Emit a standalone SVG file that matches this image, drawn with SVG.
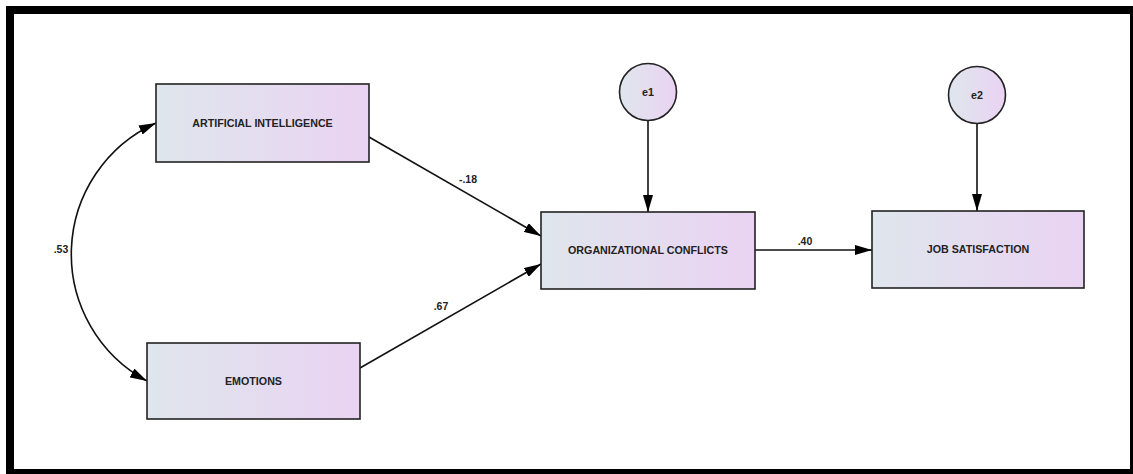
<svg xmlns="http://www.w3.org/2000/svg" width="1133" height="474" viewBox="0 0 1133 474">
<defs>
<linearGradient id="g" x1="0" y1="0" x2="1" y2="0">
<stop offset="0" stop-color="#dfe6ec"/>
<stop offset="1" stop-color="#ead3f3"/>
</linearGradient>
<marker id="ah" viewBox="0 0 17 10" refX="17" refY="5" markerWidth="17" markerHeight="10" markerUnits="userSpaceOnUse" orient="auto">
<path d="M0,0 L17,5 L0,10 Z" fill="#000"/>
</marker>
<marker id="as" viewBox="0 0 17 10" refX="0" refY="5" markerWidth="17" markerHeight="10" markerUnits="userSpaceOnUse" orient="auto">
<path d="M17,0 L0,5 L17,10 Z" fill="#000"/>
</marker>
</defs>
<style>
.box{fill:url(#g);stroke:#222;stroke-width:1.6}
.t{font-family:"Liberation Sans",Arial,sans-serif;font-weight:bold;font-size:10.7px;fill:#222;text-anchor:middle}
.l{font-family:"Liberation Sans",Arial,sans-serif;font-weight:bold;font-size:10.5px;fill:#222;text-anchor:middle}
.c{fill:none;stroke:#111;stroke-width:1.6}
</style>
<rect x="0" y="0" width="1133" height="474" fill="#fff"/>
<rect x="10" y="10" width="1124" height="463" fill="none" stroke="#000" stroke-width="8"/>
<g id="connectors">
<path class="c" d="M156,123 A144,144 0 0 0 147,381" marker-start="url(#as)" marker-end="url(#ah)"/>
<line class="c" x1="369" y1="137" x2="541" y2="236" marker-end="url(#ah)"/>
<line class="c" x1="360" y1="368" x2="541" y2="264" marker-end="url(#ah)"/>
<line class="c" x1="755" y1="250" x2="872" y2="250" marker-end="url(#ah)"/>
<line class="c" x1="648" y1="120" x2="648" y2="212" marker-end="url(#ah)"/>
<line class="c" x1="977" y1="123" x2="977" y2="211" marker-end="url(#ah)"/>
<text class="l" x="61" y="253">.53</text>
<text class="l" x="468" y="183">-.18</text>
<text class="l" x="441" y="310">.67</text>
<text class="l" x="805" y="245">.40</text>
</g>
<g id="ai">
<rect class="box" x="156" y="84" width="213" height="78"/>
<text class="t" x="262.5" y="127">ARTIFICIAL INTELLIGENCE</text>
</g>
<g id="emotions">
<rect class="box" x="147" y="343" width="213" height="76"/>
<text class="t" x="253.5" y="385">EMOTIONS</text>
</g>
<g id="oc">
<rect class="box" x="541" y="212" width="214" height="77"/>
<text class="t" x="648" y="254">ORGANIZATIONAL CONFLICTS</text>
</g>
<g id="js">
<rect class="box" x="872" y="211" width="212" height="77"/>
<text class="t" x="978" y="253">JOB SATISFACTION</text>
</g>
<g id="e1">
<circle class="box" cx="648" cy="92" r="28.5"/>
<text class="t" x="648" y="96">e1</text>
</g>
<g id="e2">
<circle class="box" cx="977" cy="95" r="28.5"/>
<text class="t" x="977" y="99">e2</text>
</g>
</svg>
